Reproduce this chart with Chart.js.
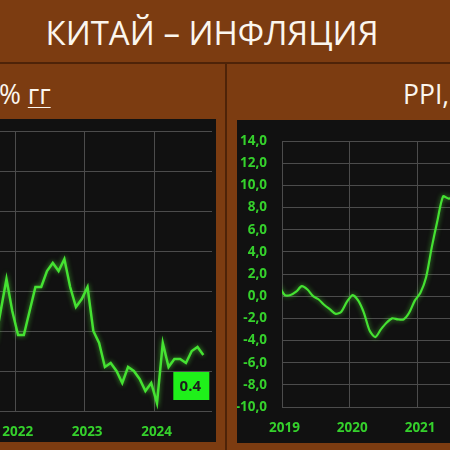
<!DOCTYPE html>
<html><head><meta charset="utf-8">
<script src="https://cdn.jsdelivr.net/npm/chart.js@4"></script>
<style>
html,body{margin:0;padding:0;width:450px;height:450px;overflow:hidden;background:#7c3c11;}
body{position:relative;font-family:"Open Sans",sans-serif;}
.abs{position:absolute;}
#title{left:0;width:424px;top:10px;text-align:center;color:#fbf6ee;font-size:33px;line-height:45px;white-space:nowrap;}
.sub{top:76px;color:#fbf6ee;font-size:26.5px;line-height:37px;white-space:nowrap;}
.ul{text-decoration:underline;text-decoration-thickness:1px;text-underline-offset:3px;}
#hline{left:0;top:62px;width:450px;height:2px;background:#4e2308;}
#vline{left:225px;top:62px;width:2px;height:388px;background:#4e2308;}
.panel{background:#111111;}
</style></head>
<body>
<div id="title" class="abs">КИТАЙ – ИНФЛЯЦИЯ</div>
<div id="hline" class="abs"></div>
<div id="vline" class="abs"></div>
<div class="abs sub" style="left:-1px">% <span class="ul">гг</span></div>
<div class="abs sub" style="left:403px">PPI, % <span class="ul">гг</span></div>
<div class="abs panel" style="left:0;top:119px;width:216px;height:323px"></div>
<div class="abs panel" style="left:237px;top:120px;width:220px;height:323px"></div>
<div class="abs" style="left:-8px;top:119px;width:220px;height:323px"><canvas id="cpi"></canvas></div>
<div class="abs" style="left:237px;top:120px;width:223px;height:323px"><canvas id="ppi"></canvas></div>
<script>
// ---- CPI (left panel), % y/y ----
const cpiMonths = ['2021-09','2021-10','2021-11','2021-12',
  '2022-01','2022-02','2022-03','2022-04','2022-05','2022-06','2022-07','2022-08','2022-09','2022-10','2022-11','2022-12',
  '2023-01','2023-02','2023-03','2023-04','2023-05','2023-06','2023-07','2023-08','2023-09','2023-10','2023-11','2023-12',
  '2024-01','2024-02','2024-03','2024-04','2024-05','2024-06','2024-07','2024-08','2024-09'];
const cpiValues = [0.7,1.5,2.3,1.5,
  0.9,0.9,1.5,2.1,2.1,2.5,2.7,2.5,2.8,2.1,1.6,1.8,
  2.1,1.0,0.7,0.1,0.2,0.0,-0.3,0.1,0.0,-0.2,-0.5,-0.3,
  -0.8,0.7,0.1,0.3,0.3,0.2,0.5,0.6,0.4];
const cpiYearLabels = ['2022','2023','2024'];

// ---- PPI (right panel), % y/y ----
const ppiMonths = ['2018-12',
  '2019-01','2019-02','2019-03','2019-04','2019-05','2019-06','2019-07','2019-08','2019-09','2019-10','2019-11','2019-12',
  '2020-01','2020-02','2020-03','2020-04','2020-05','2020-06','2020-07','2020-08','2020-09','2020-10','2020-11','2020-12',
  '2021-01','2021-02','2021-03','2021-04','2021-05','2021-06','2021-07'];
const ppiValues = [0.9,
  0.1,0.1,0.4,0.9,0.6,0.0,-0.3,-0.8,-1.2,-1.6,-1.4,-0.5,
  0.1,-0.4,-1.5,-3.1,-3.7,-3.0,-2.4,-2.0,-2.1,-2.1,-1.5,-0.4,
  0.3,1.7,4.4,6.8,9.0,8.8,9.0];
const ppiYearLabels = ['2019','2020','2021'];
const ppiYTicks = [-10,-8,-6,-4,-2,0,2,4,6,8,10,12,14];

function monthIndex(s, baseYear){ const [y,m]=s.split('-').map(Number); return (y-baseYear)*12+(m-1); }
const cpiPoints = cpiMonths.map((m,i)=>({x:monthIndex(m,2022), y:cpiValues[i]}));
const ppiPoints = ppiMonths.map((m,i)=>({x:monthIndex(m,2019), y:ppiValues[i]}));

const GREEN_TXT = '#35d12c';
const GRID = '#4c4c4c';
const tickFont = {family:'"Open Sans", sans-serif', size:13.5, weight:'bold', lineHeight:1.2};

const glow = {
  id:'glow',
  beforeDatasetDraw(chart){ const c=chart.ctx; c.save(); c.shadowColor='rgba(90,255,60,0.6)'; c.shadowBlur=5; },
  afterDatasetDraw(chart){ chart.ctx.restore(); }
};
const lastLabel = {
  id:'lastLabel',
  afterDatasetsDraw(chart){
    const meta = chart.getDatasetMeta(0);
    const n = meta.data.length-1;
    const pt = meta.data[n];
    const v = chart.data.datasets[0].data[n].y;
    const c = chart.ctx;
    c.save();
    const cx = pt.x-12, cy = pt.y+31;
    c.fillStyle = '#1ff01a';
    c.fillRect(cx-18, cy-14, 36, 28);
    c.fillStyle = '#1d1d1d';
    c.font = 'bold 15px "Open Sans", sans-serif';
    c.textAlign = 'center'; c.textBaseline = 'middle';
    c.fillText(v.toFixed(1), cx-1, cy+1);
    c.restore();
  }
};

function yearTicks(labels){
  return function(scale){ scale.ticks = labels.map((l,i)=>({value:i*12-0.5})); };
}

new Chart(document.getElementById('cpi'), {
  type:'line',
  data:{datasets:[{data:cpiPoints, borderColor:'#45e232', borderWidth:2.5, pointRadius:0, tension:0, clip:0}]},
  options:{
    responsive:true, maintainAspectRatio:false, animation:false,
    layout:{padding:{top:12,left:0,right:0,bottom:0}},
    plugins:{legend:{display:false}, tooltip:{enabled:false}},
    scales:{
      x:{type:'linear', min:-4.5, max:33.5,
        afterBuildTicks:yearTicks(cpiYearLabels),
        afterFit(s){ s.height=31; },
        grid:{color:GRID, lineWidth:1, drawTicks:true, tickLength:13, tickColor:'rgba(0,0,0,0)'},
        border:{display:false},
        ticks:{color:GREEN_TXT, font:tickFont, padding:0, labelOffset:2.5, maxRotation:0,
          callback:(v,i)=>cpiYearLabels[i]}
      },
      y:{type:'linear', min:-1, max:6,
        ticks:{display:false, stepSize:1},
        afterFit(s){ s.width=0; },
        grid:{color:GRID, lineWidth:1, drawTicks:false},
        border:{display:false}
      }
    }
  },
  plugins:[glow, lastLabel]
});

new Chart(document.getElementById('ppi'), {
  type:'line',
  data:{datasets:[{data:ppiPoints, borderColor:'#45e232', borderWidth:2.2, pointRadius:0, tension:0.25, clip:0}]},
  options:{
    responsive:true, maintainAspectRatio:false, animation:false,
    layout:{padding:{top:21,left:0,right:0,bottom:0}},
    plugins:{legend:{display:false}, tooltip:{enabled:false}},
    scales:{
      x:{type:'linear', min:-0.5, max:31,
        afterBuildTicks:yearTicks(ppiYearLabels),
        afterFit(s){ s.height=36; },
        grid:{color:GRID, lineWidth:1, drawTicks:true, tickLength:13, tickColor:'rgba(0,0,0,0)'},
        border:{display:false},
        ticks:{color:GREEN_TXT, font:tickFont, padding:0, labelOffset:2.5, maxRotation:0,
          callback:(v,i)=>ppiYearLabels[i]}
      },
      y:{type:'linear', min:-10, max:14,
        afterBuildTicks(s){ s.ticks = ppiYTicks.map(v=>({value:v})); },
        afterFit(s){ s.width=45; },
        grid:{color:GRID, lineWidth:1, drawTicks:true, tickLength:15, tickColor:'rgba(0,0,0,0)'},
        border:{display:false},
        ticks:{color:GREEN_TXT, font:tickFont, padding:0,
          callback:(v)=>Number(v).toFixed(1).replace('.',',')}
      }
    }
  },
  plugins:[glow]
});
</script>
</body></html>
